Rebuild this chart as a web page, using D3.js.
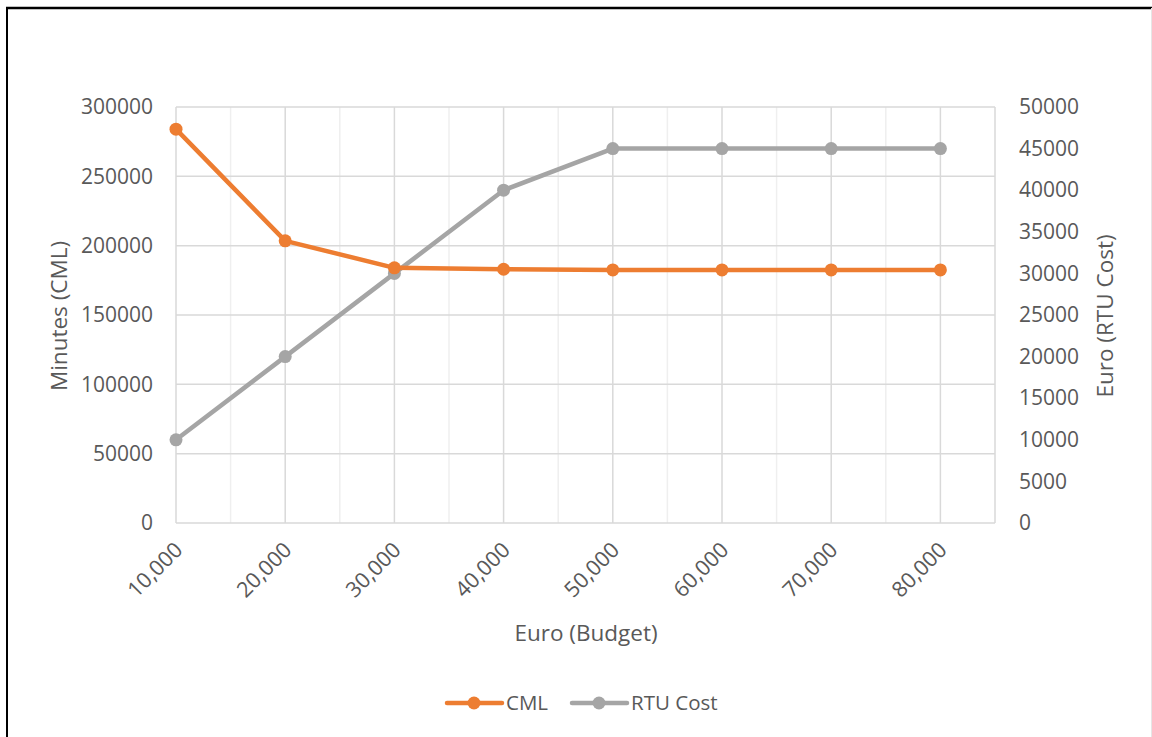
<!DOCTYPE html>
<html><head><meta charset="utf-8">
<script src="https://cdn.jsdelivr.net/npm/d3@7"></script>
<style>
html,body{margin:0;padding:0;background:#fff;}
svg{display:block;font-family:"Open Sans",sans-serif;}
</style></head>
<body><svg id="c" width="1152" height="737"></svg>
<script>
const budget = [10000, 20000, 30000, 40000, 50000, 60000, 70000, 80000];
const cml = [284000, 203500, 184000, 183000, 182500, 182500, 182500, 182500];
const rtuCost = [10000, 20000, 30000, 40000, 45000, 45000, 45000, 45000];
const leftTicks = [0, 50000, 100000, 150000, 200000, 250000, 300000];
const rightTicks = [0, 5000, 10000, 15000, 20000, 25000, 30000, 35000, 40000, 45000, 50000];
const xMajor = [10000, 20000, 30000, 40000, 50000, 60000, 70000, 80000];
const xMinor = [15000, 25000, 35000, 45000, 55000, 65000, 75000, 85000];
const seriesNames = ["CML", "RTU Cost"];
const colors = ["#ED7D31", "#A5A5A5"];

const svg = d3.select("#c");
const L = 176, R = 995, T = 107, B = 523;
const x = d3.scaleLinear().domain([10000, 85000]).range([L, R]);
const yL = d3.scaleLinear().domain([0, 300000]).range([B, T]);
const yR = d3.scaleLinear().domain([0, 50000]).range([B, T]);
const txt = "#595959";

// frame
svg.append("line").attr("x1",7).attr("x2",7).attr("y1",7).attr("y2",737).attr("stroke","#000").attr("stroke-width",2);
svg.append("line").attr("x1",6).attr("x2",1152).attr("y1",8).attr("y2",8).attr("stroke","#000").attr("stroke-width",2.5);
svg.append("line").attr("x1",1151.5).attr("x2",1151.5).attr("y1",8).attr("y2",737).attr("stroke","#e6e6e6").attr("stroke-width",1);

// grid
const g = svg.append("g");
g.selectAll(".minx").data(xMinor).join("line")
  .attr("x1",d=>x(d)).attr("x2",d=>x(d)).attr("y1",T).attr("y2",B)
  .attr("stroke",d=>d===85000?"#d9d9d9":"#efefef").attr("stroke-width",1.5);
g.selectAll(".majx").data(xMajor).join("line")
  .attr("x1",d=>x(d)).attr("x2",d=>x(d)).attr("y1",T).attr("y2",B)
  .attr("stroke","#d9d9d9").attr("stroke-width",1.5);
g.selectAll(".majy").data(leftTicks).join("line")
  .attr("x1",L).attr("x2",R).attr("y1",d=>yL(d)).attr("y2",d=>yL(d))
  .attr("stroke","#d9d9d9").attr("stroke-width",1.5);

// axes
const axL = svg.append("g").attr("transform",`translate(${L},0)`)
  .call(d3.axisLeft(yL).tickValues(leftTicks).tickFormat(d3.format("d")).tickSize(0).tickPadding(23));
const axR = svg.append("g").attr("transform",`translate(${R},0)`)
  .call(d3.axisRight(yR).tickValues(rightTicks).tickFormat(d3.format("d")).tickSize(0).tickPadding(24));
const axX = svg.append("g").attr("transform",`translate(0,${B})`)
  .call(d3.axisBottom(x).tickValues(xMajor).tickFormat(d3.format(",")).tickSize(0));
[axL, axR, axX].forEach(a=>{
  a.select(".domain").remove();
  a.selectAll("text").attr("fill",txt).style("font-size","21px").style("font-family","'Open Sans',sans-serif");
});
axX.selectAll("text")
  .style("font-size","21.5px")
  .attr("text-anchor","end").attr("dy","0.35em")
  .attr("transform","translate(2,23) rotate(-45)").attr("y",0).attr("x",0);

// axis titles
svg.append("text").attr("transform","translate(67,316) rotate(-90)").attr("text-anchor","middle")
  .attr("fill",txt).style("font-size","22.5px").text("Minutes (CML)");
svg.append("text").attr("transform","translate(1113,316) rotate(-90)").attr("text-anchor","middle")
  .attr("fill",txt).style("font-size","22.5px").text("Euro (RTU Cost)");
svg.append("text").attr("x",586).attr("y",641).attr("text-anchor","middle")
  .attr("fill",txt).style("font-size","22.5px").text("Euro (Budget)");

// series
const data = [
  budget.map((b,i)=>({x:b, y:cml[i]})),
  budget.map((b,i)=>({x:b, y:rtuCost[i]}))
];
const scales = [yL, yR];
[1,0].forEach(s=>{
  const line = d3.line().x(d=>x(d.x)).y(d=>scales[s](d.y));
  svg.append("path").datum(data[s]).attr("d",line).attr("fill","none")
    .attr("stroke",colors[s]).attr("stroke-width",4.5).attr("stroke-linejoin","round");
  svg.selectAll(".pt"+s).data(data[s]).join("circle")
    .attr("cx",d=>x(d.x)).attr("cy",d=>scales[s](d.y)).attr("r",6.5).attr("fill",colors[s]);
});

// legend
const leg = [{x0:447, tx:506},{x0:572, tx:631}];
seriesNames.forEach((n,i)=>{
  const gg = svg.append("g");
  gg.append("line").attr("x1",leg[i].x0).attr("x2",leg[i].x0+55).attr("y1",703).attr("y2",703)
    .attr("stroke",colors[i]).attr("stroke-width",4.5).attr("stroke-linecap","round");
  gg.append("circle").attr("cx",leg[i].x0+27).attr("cy",703).attr("r",6.5).attr("fill",colors[i]);
  gg.append("text").attr("x",leg[i].tx).attr("y",703).attr("dy","0.35em").attr("fill",txt)
    .style("font-size","20.5px").text(n);
});
</script></body></html>
